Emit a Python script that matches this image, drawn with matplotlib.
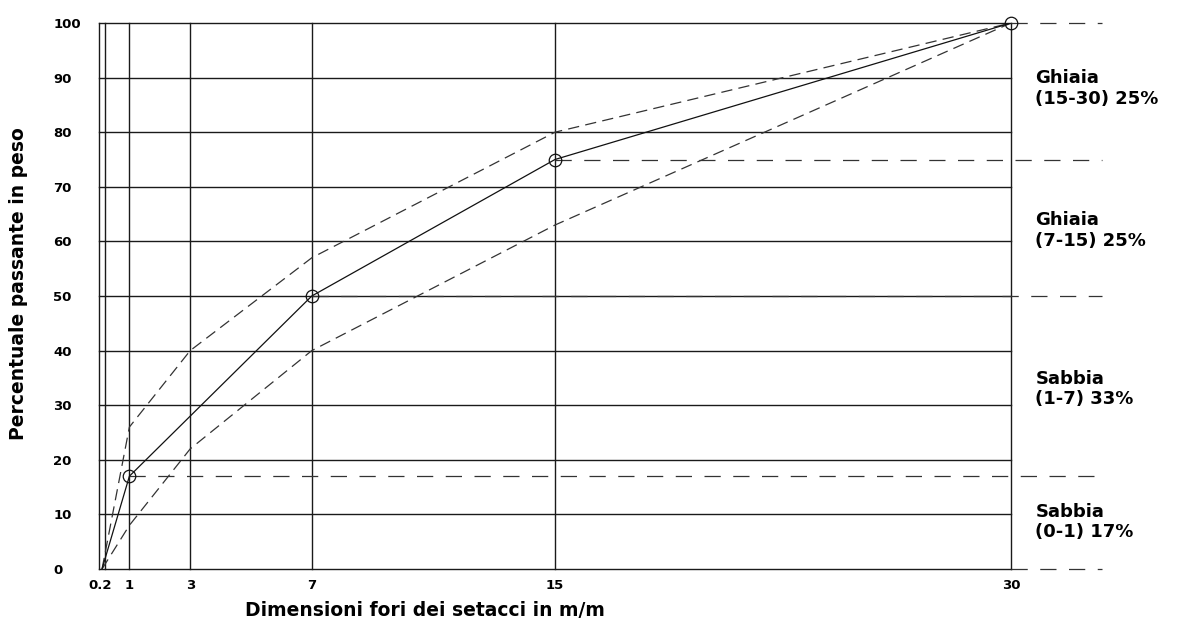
import matplotlib
matplotlib.use("Agg")
import matplotlib.pyplot as plt
import matplotlib.transforms as mtransforms

# Dati della curva granulometrica
sieves = [0.1, 1, 3, 7, 15, 30]
passing = [0, 17, 28, 50, 75, 100]
upper = [0, 26, 40, 57, 80, 100]
lower = [0, 8, 22, 40, 63, 100]

marker_x = [1, 7, 15, 30]
marker_y = [17, 50, 75, 100]

grid_x = [0, 0.2, 1, 3, 7, 15, 30]
tick_x = [0.2, 1, 3, 7, 15, 30]
tick_x_labels = ["0.2", "1", "3", "7", "15", "30"]
tick_y = list(range(0, 101, 10))

# linee tratteggiate di divisione (y, x di partenza)
split_y = [100, 75, 50, 17, 0]
split_x0 = [30, 15, 7, 1, 30]
split_x1 = 33.0

zone_labels = ["Ghiaia\n(15-30) 25%", "Ghiaia\n(7-15) 25%",
               "Sabbia\n(1-7) 33%", "Sabbia\n(0-1) 17%"]
zone_y = [88, 62, 33, 8.6]

plt.rcParams['font.family'] = ['DejaVu Sans']
plt.rcParams['font.weight'] = 'bold'

fig = plt.figure(figsize=(11.87, 6.24), dpi=100)
W, H = 1187, 624
ax = fig.add_axes([99 / W, 1 - 569 / H, (1011 - 99) / W, (569 - 23) / H])
ax.set_xlim(0, 30)
ax.set_ylim(0, 100)

gc = '#1a1a1a'
for x in grid_x:
    ax.axvline(x, color=gc, lw=1.0, zorder=1, clip_on=False)
for y in tick_y:
    ax.axhline(y, color=gc, lw=1.0, zorder=1, clip_on=False)

for y, x0 in zip(split_y, split_x0):
    ax.plot([x0, split_x1], [y, y], color='#333333', lw=0.9,
            dashes=(13, 10), clip_on=False, zorder=2)

ax.plot(sieves, upper, color='#333333', lw=0.9, dashes=(9, 5), zorder=3)
ax.plot(sieves, lower, color='#333333', lw=0.9, dashes=(9, 5), zorder=3)
ax.plot(sieves, passing, color='#111111', lw=0.9, zorder=3)
ax.plot(marker_x, marker_y, 'o', ms=9, mfc='none', mec='#111111', mew=0.9,
        clip_on=False, zorder=4)

for s in ax.spines.values():
    s.set_visible(False)

ax.set_xticks(tick_x)
ax.set_xticklabels(tick_x_labels, fontsize=9.5, fontweight='bold')
ax.set_yticks(tick_y)
ax.set_yticklabels([str(v) for v in tick_y], fontsize=9.5, fontweight='bold')
ax.tick_params(axis='both', length=0)
ax.tick_params(axis='x', pad=7)
ax.tick_params(axis='y', pad=33)
for lab in ax.get_yticklabels():
    lab.set_horizontalalignment('left')
first = ax.get_xticklabels()[0]
first.set_transform(first.get_transform() +
                    mtransforms.ScaledTranslation(-5 / 100, 0, fig.dpi_scale_trans))

for txt, y in zip(zone_labels, zone_y):
    ax.text(30.8, y, txt, fontsize=13, fontweight='bold', va='center',
            ha='left', linespacing=1.15, clip_on=False)

fig.text(425 / W, 1 - 610 / H, "Dimensioni fori dei setacci in m/m",
         fontsize=13.5, fontweight='bold', ha='center', va='center')
fig.text(19 / W, 1 - 284 / H, "Percentuale passante in peso",
         fontsize=13.5, fontweight='bold', ha='center', va='center', rotation=90)

fig.savefig("out.png", dpi=100)
